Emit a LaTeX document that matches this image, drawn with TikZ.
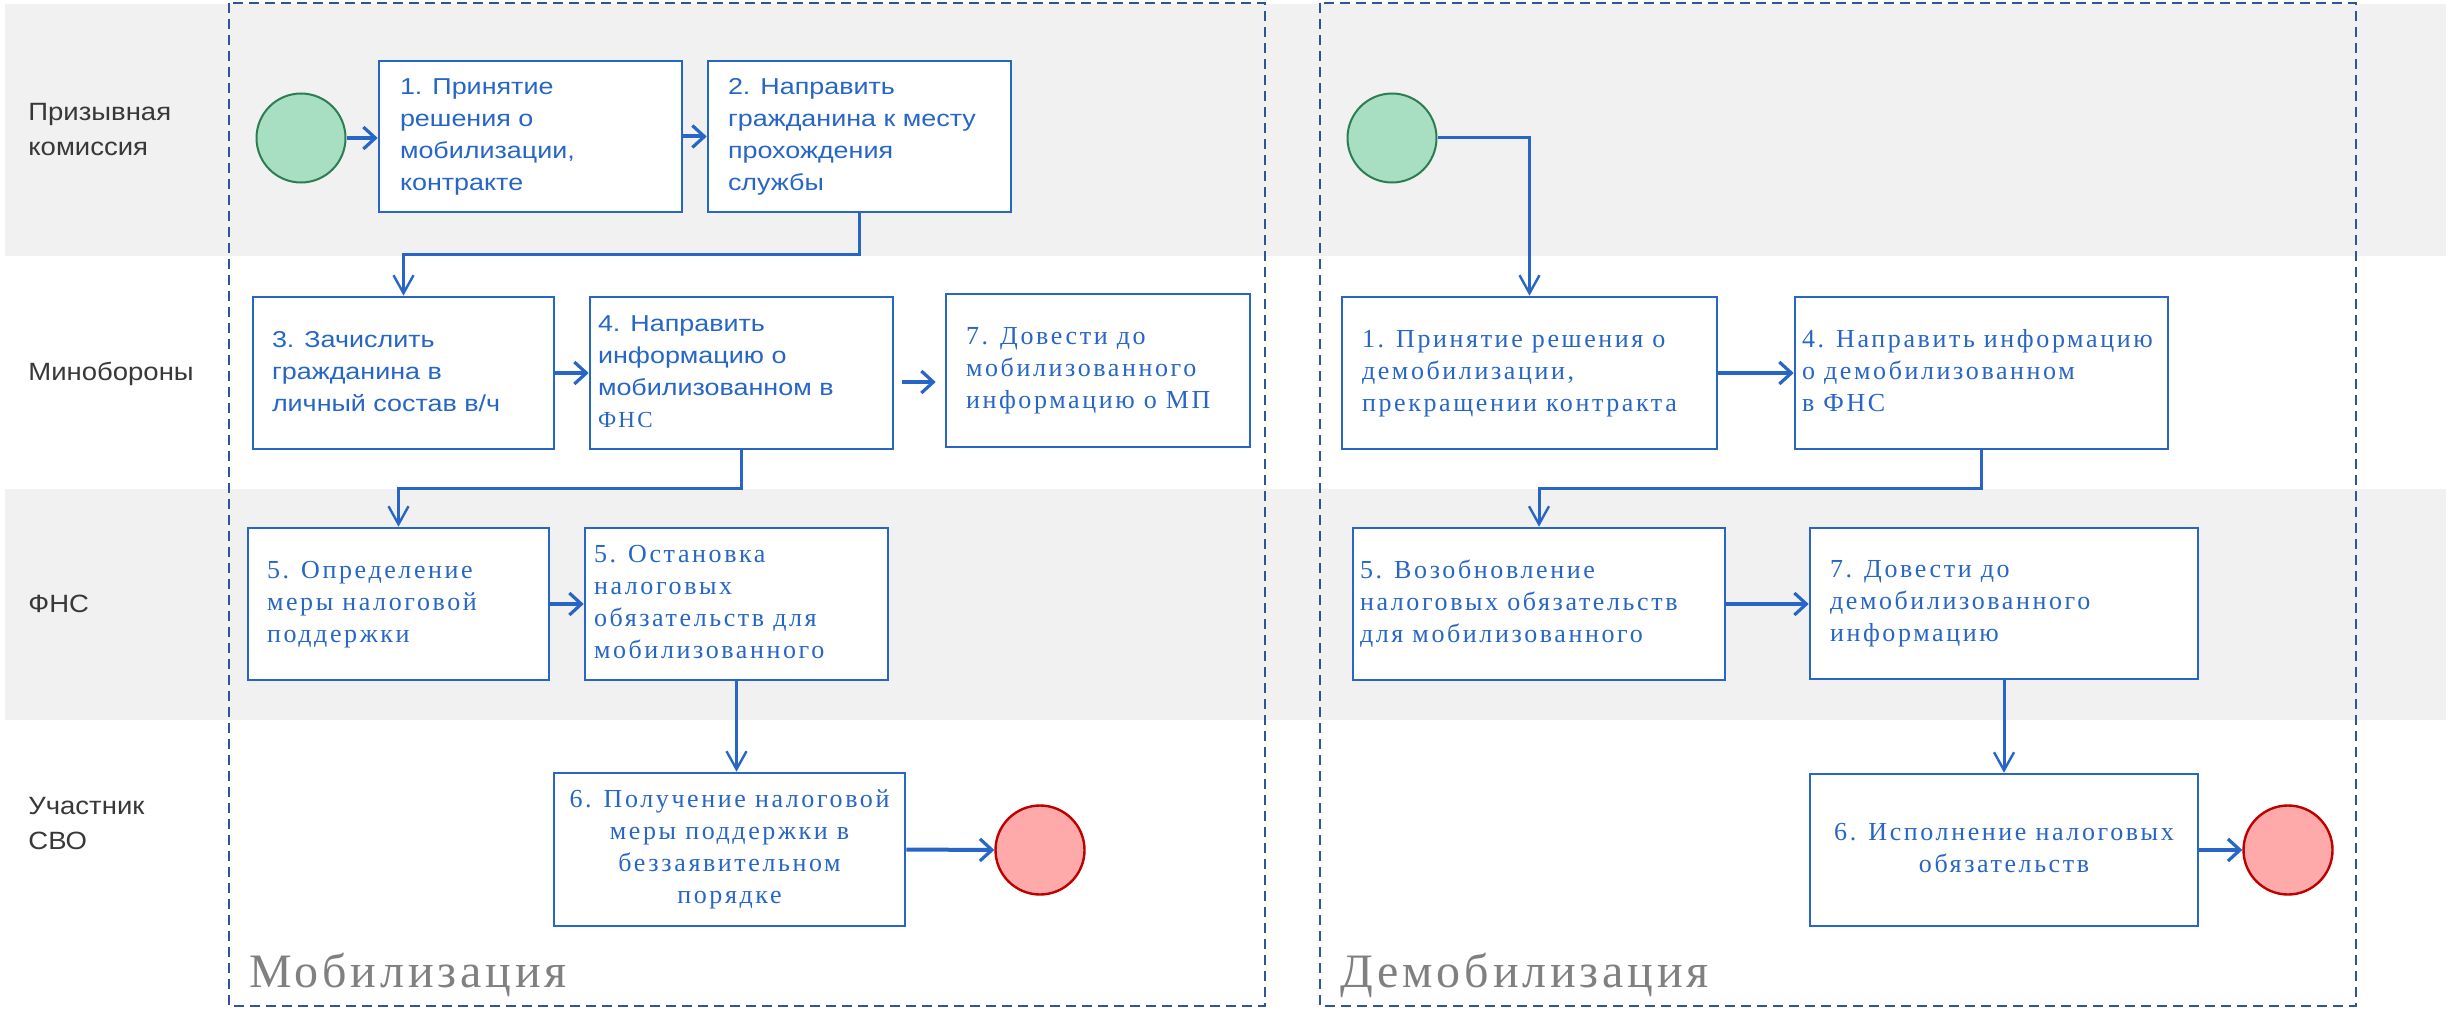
\documentclass[tikz,border=0pt]{standalone}
\usepackage{fontspec}
\usetikzlibrary{arrows.meta}
\setmainfont{Liberation Serif}
\newfontfamily\sansf[FakeStretch=1.17]{Liberation Sans}
\newfontfamily\lanef[FakeStretch=1.1]{Liberation Sans}
\newfontfamily\serifsp[LetterSpace=10]{Liberation Serif}
\newfontfamily\titlesp[LetterSpace=8]{Liberation Serif}
\definecolor{bblue}{HTML}{2766C6}
\definecolor{dashblue}{HTML}{2F5597}
\definecolor{band}{HTML}{F1F1F1}
\definecolor{lanegray}{HTML}{383838}
\definecolor{titlegray}{HTML}{808080}
\definecolor{startfill}{HTML}{A8DFC2}
\definecolor{startdraw}{HTML}{2E7D52}
\definecolor{endfill}{HTML}{FFAAAA}
\definecolor{enddraw}{HTML}{C00000}
\newcommand{\tbl}[2]{\makebox[#1][l]{\begin{tabular}{@{}l@{}}#2\end{tabular}}}
\newcommand{\tbc}[1]{\begin{tabular}{@{}c@{}}#1\end{tabular}}
\tikzset{
  box/.style={draw=bblue, line width=1.3pt, fill=white, rectangle, inner sep=0pt, text=bblue},
  sbox/.style={box, font=\sansf\fontsize{11.5}{16}\selectfont},
  rbox/.style={box, font=\serifsp\fontsize{13}{16}\selectfont},
  lane/.style={anchor=west, inner sep=0pt, align=left, text=lanegray, font=\lanef\fontsize{12.5}{17.5}\selectfont},
  ttl/.style={anchor=base west, inner sep=0pt, text=titlegray, font=\titlesp\fontsize{24}{28}\selectfont},
  startc/.style={circle, minimum size=44.5pt, inner sep=0pt, fill=startfill, draw=startdraw, line width=1pt},
  endc/.style={circle, minimum size=44.5pt, inner sep=0pt, fill=endfill, draw=enddraw, line width=1.2pt},
  harr/.style={draw=bblue, line width=2pt, -{Straight Barb[length=6pt,width=11pt,line width=1.6pt]}},
  varr/.style={draw=bblue, line width=1.5pt, -{Straight Barb[length=9pt,width=10pt,line width=1.2pt]}},
  frame/.style={draw=dashblue, line width=1pt, dash pattern=on 5pt off 3pt}
}
\begin{document}
\begin{tikzpicture}[x=0.5pt, y=-0.5pt]
\useasboundingbox (0,0) rectangle (2446,1011);
\fill[white] (0,0) rectangle (2446,1011);
% lanes
\fill[band] (5,4) rectangle (2446,256);
\fill[band] (5,489) rectangle (2446,720);
\node[lane] (l1) at (28,130) {Призывная\\комиссия};
\node[lane] (l2) at (28,374) {Минобороны};
\node[lane] (l3) at (28,604) {ФНС};
\node[lane] (l4) at (28,824) {Участник\\СВО};
% frames
\draw[frame] (229,3) rectangle (1265,1006);
\draw[frame] (1320,3) rectangle (2356,1006);
\node[ttl] (t1) at (249,987) {Мобилизация};
\node[ttl] (t2) at (1340,987) {Демобилизация};
% mobilization
\node[startc] (s1) at (301,138) {};
\node[sbox, minimum width=151.5pt, minimum height=75.5pt] (b1) at (530.5,136.5) {\tbl{130.5pt}{1. Принятие\\решения о\\мобилизации,\\контракте}};
\node[sbox, minimum width=151.5pt, minimum height=75.5pt] (b2) at (859.5,136.5) {\tbl{131.5pt}{2. Направить\\гражданина к месту\\прохождения\\службы}};
\node[sbox, minimum width=150.5pt, minimum height=76pt] (b3) at (403.5,373) {\tbl{131.5pt}{3. Зачислить\\гражданина в\\личный состав в/ч}};
\node[sbox, minimum width=151.5pt, minimum height=76pt] (b4) at (741.5,373) {\tbl{143.5pt}{4. Направить\\информацию о\\мобилизованном в\\{\serifsp ФНС}}};
\node[rbox, minimum width=152pt, minimum height=76.5pt] (b7) at (1098,370.5) {\tbl{132pt}{7. Довести до\\мобилизованного\\информацию о МП}};
\node[rbox, minimum width=150.5pt, minimum height=76pt] (b5a) at (398.5,604) {\tbl{131.5pt}{5. Определение\\меры налоговой\\поддержки}};
\node[rbox, minimum width=151.5pt, minimum height=76pt] (b5b) at (736.5,604) {\tbl{142.5pt}{5. Остановка\\налоговых\\обязательств для\\мобилизованного}};
\node[rbox, minimum width=175.5pt, minimum height=76.5pt] (b6) at (729.5,849.5) {\tbc{6. Получение налоговой\\меры поддержки в\\беззаявительном\\порядке}};
\node[endc] (e1) at (1040,850) {};
% demobilization
\node[startc] (s2) at (1392,138) {};
\node[rbox, minimum width=187.5pt, minimum height=76pt] (d1) at (1529.5,373) {\tbl{167.5pt}{1. Принятие решения о\\демобилизации,\\прекращении контракта}};
\node[rbox, minimum width=186.5pt, minimum height=76pt] (d4) at (1981.5,373) {\tbl{179.5pt}{4. Направить информацию\\о демобилизованном\\в ФНС}};
\node[rbox, minimum width=186pt, minimum height=76pt] (d5) at (1539,604) {\tbl{179pt}{5. Возобновление\\налоговых обязательств\\для мобилизованного}};
\node[rbox, minimum width=194pt, minimum height=75.5pt] (d7) at (2004,603.5) {\tbl{174pt}{7. Довести до\\демобилизованного\\информацию}};
\node[rbox, minimum width=194pt, minimum height=76pt] (d6) at (2004,850) {\tbc{6. Исполнение налоговых\\обязательств}};
\node[endc] (e2) at (2288,850) {};
% connectors mobilization
\draw[harr] (s1.east) -- (s1.east -| b1.west);
\draw[harr] (b1.east) -- (b2.west);
\draw[varr] (b2.south) -- (b2.south |- 0,254) -| (b3.north);
\draw[harr] (b3.east) -- (b4.west);
\draw[harr, shorten <=4pt, shorten >=4.5pt] (b4.east |- 0,382) -- (b7.west |- 0,382);
\draw[varr] (b4.south) -- (b4.south |- 0,488) -| (b5a.north);
\draw[harr] (b5a.east) -- (b5a.east -| b5b.west);
\draw[varr] (b5b.south) -- (b5b.south |- b6.north);
\draw[harr] (b6.east) -- (e1.west);
% connectors demobilization
\draw[varr] (s2.east) -| (d1.north);
\draw[harr] (d1.east) -- (d4.west);
\draw[varr] (d4.south) -- (d4.south |- 0,488) -| (d5.north);
\draw[harr] (d5.east) -- (d5.east -| d7.west);
\draw[varr] (d7.south) -- (d7.south |- d6.north);
\draw[harr] (d6.east) -- (e2.west);
\end{tikzpicture}
\end{document}
